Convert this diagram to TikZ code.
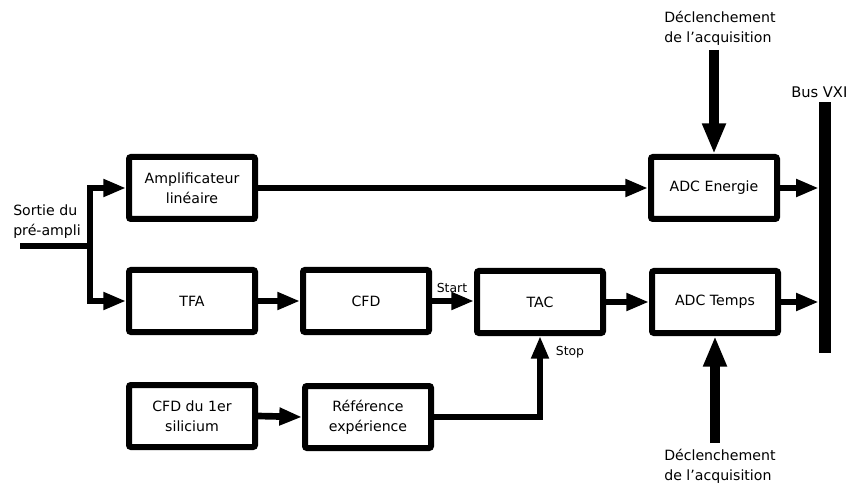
\documentclass[tikz,border=0pt]{standalone}
\usepackage{fontspec}
\setmainfont{DejaVu Sans}
\usetikzlibrary{arrows.meta}
\tikzset{
  blk/.style={draw, line width=4.5pt, rounded corners=1.5pt, minimum width=94.5pt,
    minimum height=46.5pt, inner sep=0pt, align=center,
    font=\fontsize{10.6pt}{15pt}\selectfont},
  sig/.style={line width=5pt, -{Triangle[length=17pt,width=12.5pt]}},
  trig/.style={line width=8pt, -{Triangle[length=23pt,width=16.5pt]}},
  lbl/.style={inner sep=0pt, align=left, font=\fontsize{10.6pt}{15pt}\selectfont},
  small/.style={inner sep=0pt, font=\fontsize{9.3pt}{11pt}\selectfont}
}
\begin{document}
\begin{tikzpicture}[x=0.75pt, y=-0.75pt]
\useasboundingbox (0,0) rectangle (848,491);
% boxes
\node[blk] (amp) at (192,188) {Amplificateur\\linéaire};
\node[blk] (tfa) at (192,301) {TFA};
\node[blk] (cfd) at (366,301) {CFD};
\node[blk] (tac) at (540,302) {TAC};
\node[blk] (adce) at (714,188) {ADC Energie};
\node[blk] (adct) at (715,302) {ADC Temps};
\node[blk] (cfdone) at (192,416) {CFD du 1er\\silicium};
\node[blk] (ref) at (368,417) {Référence\\expérience};
% bus
\node[fill=black, inner sep=0pt, minimum width=9pt, minimum height=188pt] (bus) at (825,227.5) {};
\node[lbl, anchor=base west, font=\fontsize{11pt}{15pt}\selectfont] (buslbl) at (791,98) {Bus VXI};
% input
\coordinate (in) at (20,246);
\coordinate (split) at (90,246);
\node[lbl, anchor=west] (sortie) at (13,222) {Sortie du\\pré-ampli};
\draw[line width=5pt] (in) -- (split);
\draw[sig] (split) |- (amp.west);
\draw[sig] (split) |- (tfa.west);
% chain
\draw[sig] (amp.east) -- (adce.west);
\draw[sig] (tfa.east) -- (cfd.west);
\draw[sig] (cfd.east) -- (tac.west |- cfd.east);
\node[small] (start) at (452,288) {Start};
\draw[sig] (tac.east |- adct.west) -- (adct.west);
\draw[sig] (cfdone.east) -- (ref.west);
\draw[sig] (ref.east) -| (tac.south);
\node[small] (stop) at (570,352) {Stop};
% to bus
\draw[sig] (adce.east) -- (adce.east -| bus.west);
\draw[sig] (adct.east) -- (adct.east -| bus.west);
% triggers
\coordinate (trigtop) at (714,50);
\coordinate (trigbot) at (715,443);
\draw[trig] (trigtop) -- (adce.north);
\draw[trig] (trigbot) -- (adct.south);
\node[lbl, anchor=west] (dtop) at (664,28) {Déclenchement\\de l\symbol{"27}acquisition};
\node[lbl, anchor=west] (dbot) at (664,466) {Déclenchement\\de l\symbol{"27}acquisition};
\end{tikzpicture}
\end{document}
